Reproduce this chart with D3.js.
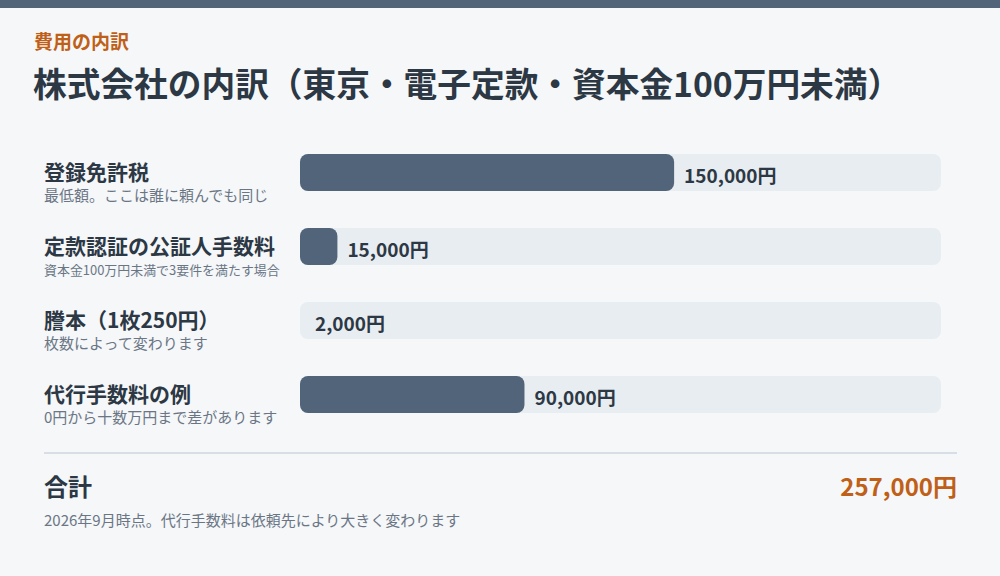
<!DOCTYPE html>
<html><head><meta charset="utf-8">
<script src="https://cdn.jsdelivr.net/npm/d3@7/dist/d3.min.js"></script>
<style>
html,body{margin:0;padding:0;background:#f5f7f9;}
svg{display:block;font-family:"Noto Sans CJK JP","Noto Sans",sans-serif;}
</style></head>
<body>
<svg id="chart" width="1000" height="576"></svg>
<script>
const eyebrow = "費用の内訳";
const title = "株式会社の内訳（東京・電子定款・資本金100万円未満）";
const categories = ["登録免許税", "定款認証の公証人手数料", "謄本（1枚250円）", "代行手数料の例"];
const notes = ["最低額。ここは誰に頼んでも同じ", "資本金100万円未満で3要件を満たす場合", "枚数によって変わります", "0円から十数万円まで差があります"];
const values = [150000, 15000, 2000, 90000];
const totalLabel = "合計";
const footnote = "2026年9月時点。代行手数料は依頼先により大きく変わります";

const W = 1000, H = 576;
const svg = d3.select("#chart");
const total = d3.sum(values);
const fmt = d3.format(",");

svg.append("rect").attr("x",0).attr("y",0).attr("width",W).attr("height",H).attr("fill","#f5f7f9");
svg.append("rect").attr("x",0).attr("y",0).attr("width",W).attr("height",8).attr("fill","#52647a");

svg.append("text").attr("x",34).attr("y",49).attr("font-size",19).attr("font-weight",700)
  .attr("fill","#c05f17").text(eyebrow);
svg.append("text").attr("x",33).attr("y",97).attr("font-size",33.7).attr("font-weight",700)
  .attr("fill","#2d3845").text(title);

const x = d3.scaleLinear().domain([0, total]).range([300, 941]);
const y = d3.scaleBand().domain(categories).range([154, 154 + 74*categories.length]).paddingInner(0);
const barH = 37, rx = 8;

const rows = svg.append("g").selectAll("g").data(categories).join("g")
  .attr("transform", d => `translate(0,${y(d)})`);

rows.append("rect").attr("x", x(0)).attr("y",0).attr("width", x(total)-x(0)).attr("height", barH)
  .attr("rx", rx).attr("fill", "#e8edf1");

rows.filter((d,i) => x(values[i]) - x(0) >= rx*2)
  .append("rect").attr("x", x(0)).attr("y",0)
  .attr("width", (d) => x(values[categories.indexOf(d)]) - x(0)).attr("height", barH)
  .attr("rx", rx).attr("fill", "#52647a");

rows.append("text").attr("x", (d,i) => x(values[i]) + 10).attr("y", 29)
  .attr("font-size",19).attr("font-weight",700).attr("fill","#2d3845")
  .text((d,i) => fmt(values[i]) + "円");

rows.append("text").attr("x",44).attr("y",26).attr("font-size",21).attr("font-weight",700)
  .attr("fill","#2d3845").text(d => d);

const maxW = 236;
rows.append("text").attr("x",44).attr("y",46.5).attr("font-size",15).attr("fill","#6b7685")
  .text((d,i) => notes[i])
  .each(function(){
    const len = this.getComputedTextLength();
    if (len > maxW) d3.select(this).attr("font-size", 15*maxW/len);
  });

svg.append("rect").attr("x",44).attr("y",452).attr("width",913).attr("height",2).attr("fill","#d8dee5");

svg.append("text").attr("x",44).attr("y",496).attr("font-size",24).attr("font-weight",700)
  .attr("fill","#2d3845").text(totalLabel);
svg.append("text").attr("x",957).attr("y",496).attr("text-anchor","end").attr("font-size",24).attr("font-weight",700)
  .attr("fill","#c05f17").text(fmt(total) + "円");
svg.append("text").attr("x",44).attr("y",526).attr("font-size",15).attr("fill","#6b7685").text(footnote);
</script>
</body></html>
